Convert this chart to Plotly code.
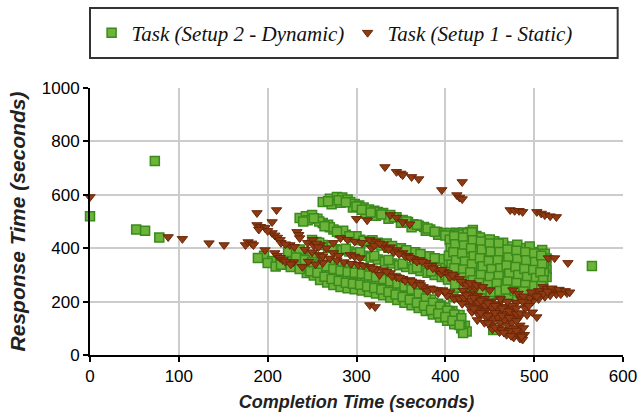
import plotly.graph_objects as go

# ---------------- data ----------------
series_names = ["Task (Setup 2 - Dynamic)", "Task (Setup 1 - Static)"]

# Setup 2 - Dynamic (green squares)
dyn_out_x = [0, 52, 62, 78, 73, 565]
dyn_out_y = [520, 470, 465, 440, 727, 333]

dyn_low_x = [223, 232, 240, 248, 256, 264, 272, 280, 288, 296, 304, 312, 320, 328, 336, 344, 352, 360, 368, 376, 384, 392, 400, 408, 416,
             196, 205, 214, 228, 238, 246, 254, 262, 270, 278, 286, 294, 302, 310, 318, 326, 334, 342, 350, 358, 366, 374, 382, 390, 398, 406, 414, 422,
             189, 200, 209, 244, 252, 259, 267, 274, 282, 290, 298, 306, 314, 322, 330, 338, 346, 354, 362, 370, 378, 386, 394, 402, 410, 418, 424, 420,
             236, 250, 283, 300, 330, 355, 372, 395, 405, 412,
             232, 242, 250, 258, 266, 274, 282, 290, 298, 306, 314, 322, 330, 338, 346, 354, 362, 370, 378, 386, 394, 402, 410, 418,
             215, 226, 236, 248, 256, 264, 272, 280, 288, 296, 304, 312, 320, 328, 336, 344, 352, 360, 368, 376, 384, 392, 400, 408, 416]
dyn_low_y = [386, 378, 372, 365, 358, 350, 342, 335, 330, 330, 325, 318, 312, 305, 296, 288, 276, 262, 245, 225, 208, 192, 178, 165, 150,
             372, 352, 345, 350, 340, 330, 322, 315, 306, 298, 292, 288, 284, 278, 272, 265, 256, 248, 238, 228, 215, 200, 185, 170, 155, 140, 125, 110,
             363, 345, 331, 307, 298, 281, 272, 262, 255, 250, 246, 242, 236, 230, 224, 215, 206, 196, 186, 176, 165, 152, 140, 128, 115, 100, 88, 82,
             395, 375, 315, 305, 280, 255, 230, 185, 160, 130,
             365, 356, 348, 340, 332, 322, 316, 311, 308, 304, 298, 292, 285, 276, 268, 257, 245, 230, 212, 196, 181, 166, 152, 138,
             338, 330, 322, 314, 308, 293, 285, 277, 271, 267, 263, 257, 251, 245, 236, 227, 217, 207, 196, 184, 169, 155, 142, 128, 112]

dyn_a_x = [262, 270, 278, 284, 290, 293, 298, 303, 308, 314, 320, 324, 330, 338, 345, 352, 358, 364, 370, 376, 383, 391, 398, 405, 412, 420, 428,
           272, 282, 296, 310, 322, 336, 350, 362, 378, 392, 405,
           268, 280, 288, 300, 306, 316, 328, 342, 356, 368, 380, 388, 400, 410, 420]
dyn_a_y = [573, 585, 592, 590, 582, 573, 566, 560, 552, 545, 540, 536, 532, 524, 516, 506, 498, 490, 484, 479, 470, 461, 457, 457, 458, 459, 461,
           565, 570, 552, 530, 522, 510, 495, 478, 465, 450, 445,
           576, 580, 572, 556, 544, 534, 526, 516, 500, 488, 474, 462, 448, 450, 445]

dyn_b_x = [236, 243, 250, 256, 262, 268, 274, 281, 288, 296, 304, 312, 320, 328, 336, 344, 352, 360, 368, 376, 384, 392, 400,
           245, 258, 270, 285, 300, 318, 334, 350, 366, 382, 398,
           240, 252, 264, 278, 292, 308, 324, 340, 356, 372, 388, 404]
dyn_b_y = [513, 520, 524, 510, 494, 488, 470, 457, 450, 440, 432, 423, 415, 410, 402, 395, 388, 380, 372, 365, 358, 352, 345,
           505, 500, 478, 465, 445, 430, 418, 400, 385, 370, 360,
           500, 512, 482, 462, 445, 428, 420, 408, 392, 378, 362, 352]

dyn_c_x = [250, 255, 262, 268, 276, 284, 292, 300, 308, 316, 324, 332, 340, 348, 356, 364, 372, 380, 388, 396, 404, 412, 420,
           258, 272, 288, 304, 320, 336, 352, 368, 384, 400, 416]
dyn_c_y = [431, 423, 412, 401, 396, 393, 388, 380, 372, 365, 358, 350, 343, 336, 330, 322, 315, 308, 300, 292, 285, 278, 270,
           420, 405, 398, 385, 372, 356, 342, 328, 314, 300, 290]

dyn_blob_x = [405, 406, 404, 407, 405, 403,
              415, 416, 414, 417, 415, 413, 416, 414,
              425, 424, 426, 423, 427, 425, 424, 426,
              435, 436, 434, 437, 435, 433, 436, 434,
              445, 446, 444, 447, 445, 443, 446,
              455, 454, 456, 453, 457, 455, 454, 456,
              465, 466, 464, 467, 465, 463, 466,
              475, 474, 476, 473, 477, 475, 474,
              485, 486, 484, 487, 485, 483,
              495, 494, 496, 493, 497, 495,
              503, 504, 502, 505, 503, 504,
              431, 439, 450, 465, 481, 495, 509, 512, 514, 513, 514, 512, 514, 510, 508,
              436, 450, 465, 480, 495, 507, 511, 511,
              454, 467, 409, 438, 466, 440, 471,
              410, 411, 409, 412, 410, 408, 411,
              420, 421, 419, 422, 420, 418, 421,
              430, 431, 429, 432, 430, 428, 431, 429,
              440, 441, 439, 442, 440, 438, 441,
              450, 451, 449, 452, 450, 448, 451,
              460, 461, 459, 462, 460, 458, 461,
              470, 471, 469, 472, 470, 468,
              480, 481, 479, 482, 480, 478,
              490, 491, 489, 492, 490, 488,
              500, 501, 499, 502, 500,
              508, 509, 507, 510, 508]
dyn_blob_y = [432, 401, 372, 338, 311, 283,
              451, 421, 392, 361, 329, 302, 271, 252,
              456, 427, 394, 366, 336, 306, 277, 246,
              446, 414, 386, 353, 326, 296, 264, 240,
              431, 402, 368, 342, 311, 281, 252,
              426, 396, 364, 337, 303, 276, 246, 226,
              411, 381, 349, 321, 289, 262, 236,
              406, 374, 346, 314, 286, 256, 231,
              401, 369, 342, 309, 281, 251,
              396, 366, 333, 306, 274, 246,
              386, 354, 326, 296, 266, 241,
              468, 440, 433, 420, 413, 406, 393, 379, 361, 341, 320, 301, 292, 271, 252,
              232, 225, 217, 222, 228, 232, 312, 345,
              94, 142, 217, 215, 140, 232, 226,
              445, 415, 385, 355, 325, 295, 265,
              440, 410, 380, 350, 320, 290, 260,
              460, 430, 400, 370, 340, 310, 280, 250,
              425, 395, 362, 332, 300, 270, 245,
              418, 388, 352, 322, 292, 262, 236,
              418, 386, 355, 325, 296, 268, 240,
              395, 365, 335, 305, 275, 245,
              390, 360, 330, 300, 270, 240,
              385, 355, 322, 292, 262, 238,
              380, 348, 318, 288, 258,
              372, 340, 310, 280, 258]

# Setup 1 - Static (brown triangles)
sta_out_x = [0, 88, 104, 134, 151, 175, 178, 182, 184,
             332, 345, 350, 352, 362, 370, 396, 419, 413, 416, 419,
             473, 478, 483, 487, 503, 508, 512, 518, 525, 516, 523, 538]
sta_out_y = [592, 442, 435, 419, 412, 412, 423, 418, 412,
             704, 686, 680, 674, 667, 659, 618, 648, 599, 590, 584,
             543, 540, 540, 536, 536, 530, 524, 520, 517, 363, 363, 345]

sta_early_x = [188, 188, 192, 197, 205, 210, 205, 208, 211, 214, 197, 208, 211, 214, 217,
               233, 235, 236, 225, 229, 239, 259, 274, 262, 245, 252, 266, 280,
               251, 255, 257, 293, 298, 304, 317, 315, 321,
               190, 200, 215, 220, 230, 242, 250, 258, 220, 226, 246, 254]
sta_early_y = [532, 487, 480, 476, 498, 543, 457, 448, 440, 431, 393, 382, 372, 364, 356,
               461, 450, 438, 412, 348, 330, 412, 382, 345, 420, 410, 400, 372,
               431, 418, 404, 375, 369, 363, 401, 187, 180,
               470, 465, 420, 415, 405, 395, 385, 375, 350, 340, 350, 340]

sta_b1_x = [338, 345, 352, 360, 300, 312]
sta_b1_y = [524, 515, 498, 490, 510, 505]

sta_b2_x = [274, 282, 290, 298, 306, 315, 322, 330, 338, 345, 352, 358, 364, 371, 378, 385, 391, 398, 402, 410, 416, 420, 428, 434,
            320, 332, 342, 355, 368, 380, 395, 405, 418,
            326, 336, 348, 360, 374, 386, 396, 408, 424, 430]
sta_b2_y = [420, 438, 432, 425, 420, 431, 425, 415, 404, 393, 382, 372, 360, 356, 345, 335, 318, 312, 307, 295, 285, 270, 255, 248,
            410, 400, 385, 370, 350, 335, 305, 292, 275,
            418, 396, 378, 365, 350, 325, 320, 300, 262, 265]

sta_b3_x = [262, 270, 278, 286, 294, 302, 308, 315, 322, 330, 338, 345, 352, 360, 367, 371, 375, 383, 391, 397, 405, 413, 420, 428, 436, 442,
            326, 340, 355, 365, 380, 392, 402, 410,
            318, 334, 348, 362, 372, 386, 400, 416, 424, 432, 440, 446]
sta_b3_y = [370, 362, 355, 348, 342, 338, 335, 330, 322, 318, 307, 292, 286, 281, 272, 270, 255, 250, 243, 243, 235, 217, 205, 195, 180, 172,
            300, 295, 278, 262, 240, 232, 222, 210,
            325, 312, 290, 276, 262, 246, 238, 212, 200, 188, 176, 168]

sta_bot_x = [420, 421, 419,
             428, 429, 427, 430,
             436, 437, 435, 438, 436,
             444, 445, 443, 446, 444,
             452, 453, 451, 454, 452, 453,
             460, 461, 459, 462, 460, 461,
             468, 469, 467, 470, 468, 469,
             476, 477, 475, 478, 476, 477,
             483, 484, 482, 484,
             488, 489, 487,
             424, 432, 440, 448, 456, 464, 472, 480, 432, 440, 448, 456, 464, 472, 480,
             448, 456, 464, 472, 480, 486, 474, 466]
sta_bot_y = [241, 214, 192,
             231, 204, 182, 161,
             221, 196, 171, 149, 131,
             211, 186, 164, 141, 121,
             201, 176, 152, 131, 111, 96,
             191, 166, 141, 121, 101, 86,
             181, 156, 131, 111, 91, 76,
             171, 146, 121, 101, 81, 66,
             141, 111, 86, 62,
             101, 76, 58,
             225, 215, 205, 195, 185, 175, 165, 155, 175, 158, 148, 158, 148, 140, 128,
             120, 104, 94, 90, 92, 70, 72, 84]

sta_right_x = [510, 515, 520, 525, 530, 537, 525, 518, 512, 505, 498, 490, 495, 500, 485, 480, 490, 475,
               484, 492, 503, 498, 428, 435, 442, 450, 476, 482, 488, 492,
               520, 528, 535, 505, 497, 510, 515, 530, 540, 503, 487, 494, 480, 470, 462]
sta_right_y = [255, 248, 243, 240, 235, 232, 228, 224, 218, 210, 200, 190, 215, 225, 210, 195, 175, 185,
               157, 150, 142, 160, 270, 262, 255, 243, 243, 230, 220, 195,
               250, 245, 240, 240, 235, 230, 238, 228, 235, 220, 200, 185, 175, 200, 210]

dyn_x = dyn_out_x + dyn_low_x + dyn_a_x + dyn_b_x + dyn_c_x + dyn_blob_x
dyn_y = dyn_out_y + dyn_low_y + dyn_a_y + dyn_b_y + dyn_c_y + dyn_blob_y
sta_x = sta_out_x + sta_early_x + sta_b1_x + sta_b2_x + sta_b3_x + sta_bot_x + sta_right_x
sta_y = sta_out_y + sta_early_y + sta_b1_y + sta_b2_y + sta_b3_y + sta_bot_y + sta_right_y

x_ticks = [0, 100, 200, 300, 400, 500, 600]
y_ticks = [0, 200, 400, 600, 800, 1000]

# ---------------- figure ----------------
fig = go.Figure()
fig.add_trace(go.Scatter(
    x=dyn_x, y=dyn_y, mode="markers", name=series_names[0], cliponaxis=False,
    marker=dict(symbol="square", size=9, color="#6cb33a",
                line=dict(color="#3a8a1c", width=1.5))))
fig.add_trace(go.Scatter(
    x=sta_x, y=sta_y, mode="markers", name=series_names[1], cliponaxis=False,
    marker=dict(symbol="triangle-down", size=9, color="#8e3a12",
                line=dict(color="#6a2608", width=1))))

axis_font = dict(family="Liberation Sans, Arial, sans-serif", size=17, color="#000")
xtitle_font = dict(family="Liberation Sans, Arial, sans-serif", size=18, color="#222",
                   weight="bold", style="italic")
ytitle_font = dict(family="Liberation Sans, Arial, sans-serif", size=21, color="#222",
                   weight="bold", style="italic")

fig.update_layout(
    width=643, height=418,
    margin=dict(l=90, r=20, t=88, b=63),
    paper_bgcolor="white", plot_bgcolor="white",
    showlegend=True,
    legend=dict(orientation="h", x=0.003, y=1.206, xanchor="left", yanchor="middle",
                font=dict(family="Liberation Serif, Times New Roman, serif", size=21,
                          color="#111", style="italic"),
                bgcolor="rgba(0,0,0,0)", entrywidth=211, entrywidthmode="pixels"),
    shapes=[dict(type="rect", xref="paper", yref="paper", x0=0.0, x1=0.99,
                 y0=1.112, y1=1.30, line=dict(color="#333", width=2),
                 fillcolor="rgba(0,0,0,0)")],
    xaxis=dict(range=[0, 600], tickvals=x_ticks, showgrid=True, gridcolor="#cccccc",
               gridwidth=1.5, showline=True, linecolor="#000", linewidth=2,
               ticks="outside", ticklen=5, tickwidth=2, tickcolor="#000",
               tickfont=axis_font, zeroline=False, automargin=False,
               title=dict(text="Completion Time (seconds)", font=xtitle_font, standoff=10)),
    yaxis=dict(range=[0, 1000], tickvals=y_ticks, showgrid=True, gridcolor="#cccccc",
               gridwidth=1.5, showline=True, linecolor="#000", linewidth=2,
               ticks="outside", ticklen=5, tickwidth=2, tickcolor="#000",
               tickfont=axis_font, zeroline=False, automargin=False,
               title=dict(text="Response Time (seconds)", font=ytitle_font, standoff=10)),
)

fig.write_html("out.html")
